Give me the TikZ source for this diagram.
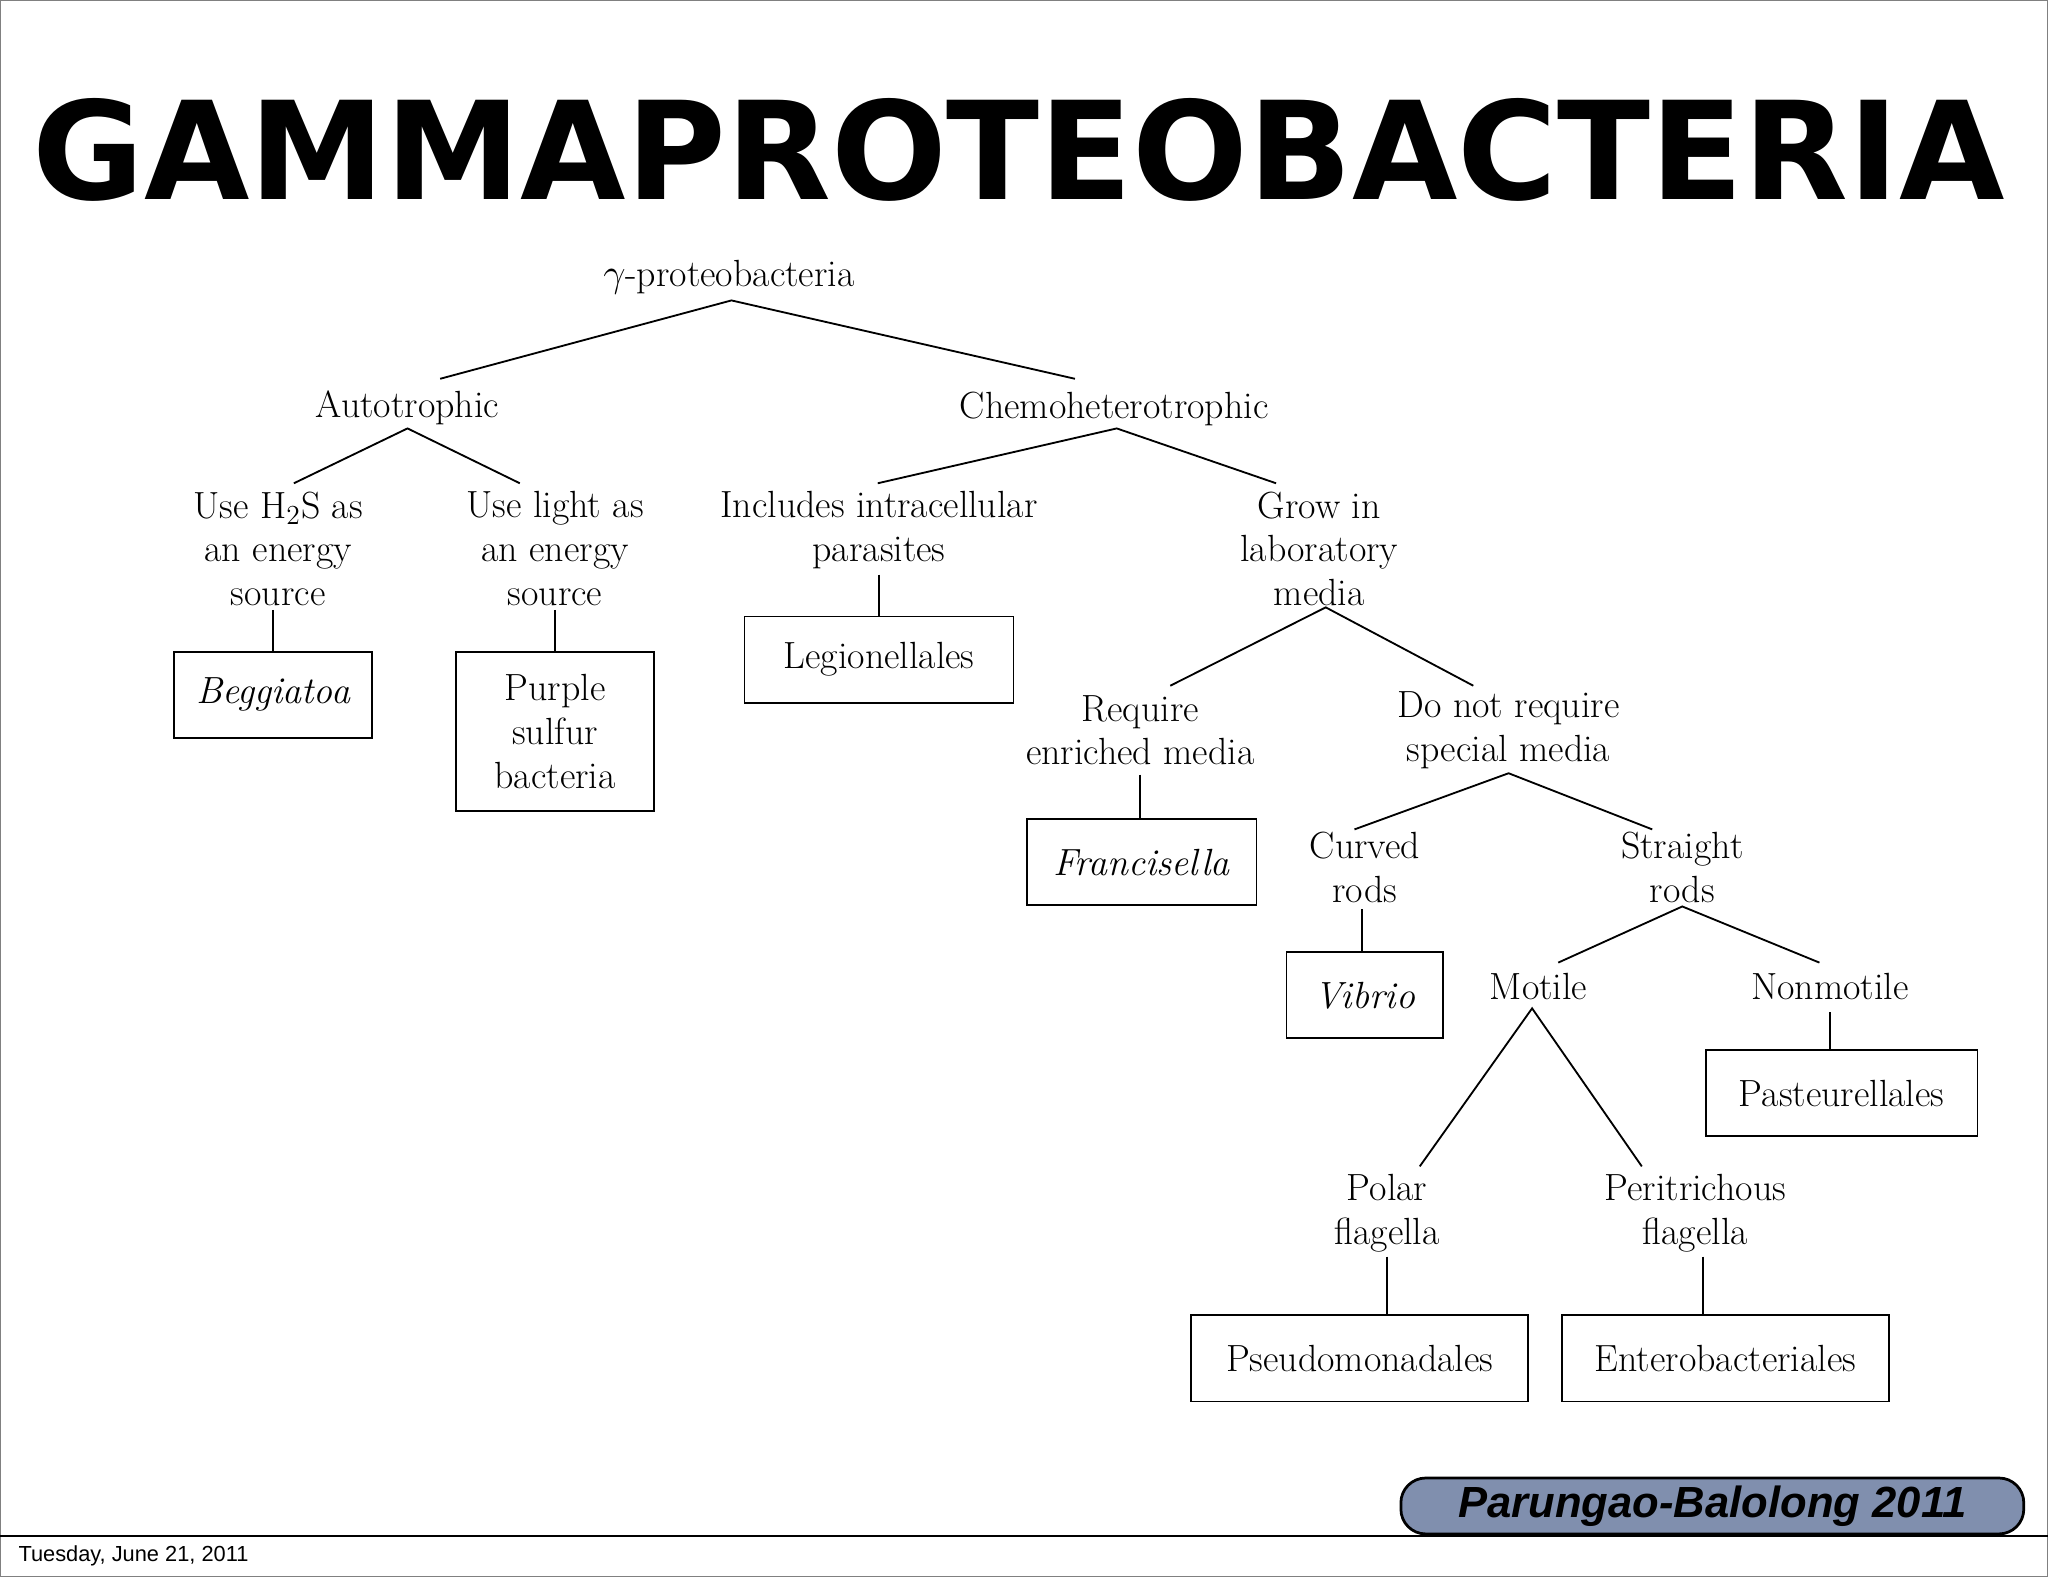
\documentclass[tikz,border=0pt]{standalone}
\usepackage{fontspec}
\setmainfont{Latin Modern Roman}
\newfontfamily\titlefont{DejaVu Sans}
\newfontfamily\footfont{Liberation Sans}
\usepackage{graphicx}
\begin{document}
\begin{tikzpicture}[x=0.02cm,y=-0.02cm,
  lbl/.style={align=center,font=\fontsize{16.5}{19}\selectfont},
  bx/.style={draw,thick,minimum height=1.32cm,align=center,font=\fontsize{16.5}{19}\selectfont},
  ln/.style={line width=0.8pt}]
\useasboundingbox (0,0) rectangle (1568,1207);
\draw[line width=0.6pt,gray] (0,0) rectangle (1568,1207);
\node (title) at (780,115) {\resizebox{30.2cm}{!}{\titlefont\bfseries GAMMAPROTEOBACTERIA}};
\node[lbl] (root) at (558,212) {$\gamma$-proteobacteria};
\node[lbl] (auto) at (312,312) {Autotrophic};
\node[lbl] (chemo) at (853,313) {Chemoheterotrophic};
\node[lbl] (h2s) at (213,420) {Use H$_2$S as\\an energy\\source};
\node[lbl] (light) at (425,420) {Use light as\\an energy\\source};
\node[bx,minimum width=3.04cm] (beg) at (209,532) {\itshape Beggiatoa};
\node[bx,minimum width=3.04cm,minimum height=2.44cm] (purple) at (425,560) {Purple\\sulfur\\bacteria};
\node[lbl] (intra) at (673,406) {Includes intracellular\\parasites};
\node[lbl] (grow) at (1010,420) {Grow in\\laboratory\\media};
\node[bx,minimum width=4.12cm] (leg) at (673,505) {Legionellales};
\node[lbl] (req) at (873,559) {Require\\enriched media};
\node[lbl] (donot) at (1155,559) {Do not require\\special media};
\node[bx,minimum width=3.52cm] (fran) at (874,660) {\itshape Francisella};
\node[lbl] (curved) at (1045,664) {Curved\\rods};
\node[lbl] (straight) at (1288,664) {Straight\\rods};
\node[bx,minimum width=2.4cm] (vib) at (1045,762) {\itshape Vibrio};
\node[lbl] (motile) at (1178,755) {Motile};
\node[lbl] (nonmot) at (1401,755) {Nonmotile};
\node[bx,minimum width=4.16cm] (past) at (1410,837) {Pasteurellales};
\node[lbl] (polar) at (1062,929) {Polar\\flagella};
\node[lbl] (peri) at (1298,929) {Peritrichous\\flagella};
\node[bx,minimum width=5.16cm] (pseudo) at (1041,1040) {Pseudomonadales};
\node[bx,minimum width=5cm] (entero) at (1321,1040) {Enterobacteriales};
% connector end points
\coordinate (r0) at (560,230); \coordinate (r1) at (337,290); \coordinate (r2) at (823,290);
\coordinate (a0) at (312,328); \coordinate (a1) at (225,370); \coordinate (a2) at (398,370);
\coordinate (h0) at (209,467); \coordinate (l0) at (425,467);
\coordinate (c0) at (855,328); \coordinate (c1) at (672,370); \coordinate (c2) at (977,370);
\coordinate (i0) at (673,440);
\coordinate (g0) at (1015,465); \coordinate (g1) at (896,525); \coordinate (g2) at (1128,525);
\coordinate (q0) at (873,593);
\coordinate (d0) at (1155,592); \coordinate (d1) at (1037,635); \coordinate (d2) at (1265,635);
\coordinate (cv0) at (1043,696);
\coordinate (s0) at (1288,694); \coordinate (s1) at (1193,737); \coordinate (s2) at (1393,737);
\coordinate (n0) at (1401,775);
\coordinate (m0) at (1173,772); \coordinate (m1) at (1087,893); \coordinate (m2) at (1257,893);
\coordinate (p0) at (1062,962); \coordinate (e0) at (1304,962);
\draw[ln] (r1) -- (r0) -- (r2);
\draw[ln] (a1) -- (a0) -- (a2);
\draw[ln] (h0) -- (beg.north);
\draw[ln] (l0) -- (purple.north);
\draw[ln] (c1) -- (c0) -- (c2);
\draw[ln] (i0) -- (leg.north);
\draw[ln] (g1) -- (g0) -- (g2);
\draw[ln] (q0) -- (q0 |- fran.north);
\draw[ln] (d1) -- (d0) -- (d2);
\draw[ln] (cv0) -- (cv0 |- vib.north);
\draw[ln] (s1) -- (s0) -- (s2);
\draw[ln] (n0) -- (n0 |- past.north);
\draw[ln] (m1) -- (m0) -- (m2);
\draw[ln] (p0) -- (p0 |- pseudo.north);
\draw[ln] (e0) -- (e0 |- entero.north);
% footer
\node[draw=black,line width=1.2pt,fill={rgb,255:red,128;green,143;blue,174},rounded corners=0.38cm,minimum width=9.54cm,minimum height=0.76cm,font=\footfont\bfseries\itshape\fontsize{19}{22}\selectfont] (foot) at (1311,1153) {Parungao-Balolong 2011};
\draw[line width=0.6pt] (0,1176) -- (1568,1176);
\node[font=\footfont\fontsize{9.5}{11}\selectfont,anchor=west] (date) at (8,1191) {Tuesday, June 21, 2011};
\end{tikzpicture}
\end{document}
